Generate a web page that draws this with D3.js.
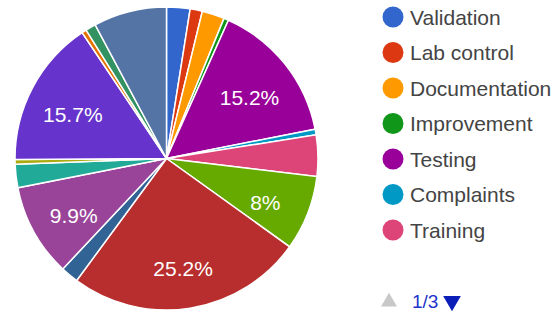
<!DOCTYPE html>
<html>
<head>
<meta charset="utf-8">
<script src="https://cdn.jsdelivr.net/npm/d3@7"></script>
<style>
  html, body { margin: 0; padding: 0; background: #fff; }
  svg { display: block; font-family: "Liberation Sans", Arial, sans-serif; }
</style>
</head>
<body>
<div id="chart"></div>
<script>
// slices, clockwise from 12 o'clock
var categories = ["Validation", "Lab control", "Documentation", "Improvement", "Testing",
    "Complaints", "Training", "Calibration", "Deviation", "Supplier", "Change control",
    "Equipment", "Cleaning", "Data integrity", "Storage", "Sampling", "Other"];
var shares = [2.5, 1.3, 2.4, 0.5, 15.2, 0.6, 4.4, 8, 25.2, 1.9, 9.9, 2.5, 0.5, 15.7, 0.5, 1.1, 7.8];
var colors = ["#3366cc", "#dc3912", "#ff9900", "#109618", "#990099", "#0099c6", "#dd4477",
    "#66aa00", "#b82e2e", "#316395", "#994499", "#22aa99", "#aaaa11", "#6633cc", "#e67300",
    "#329262", "#5574a6"];
var legendPage = { current: 1, total: 3, perPage: 7 };

var width = 559, height = 314;
var cx = 166.5, cy = 158.5, radius = 151.5;

var svg = d3.select("#chart").append("svg").attr("width", width).attr("height", height);

var total = d3.sum(shares);
var pie = d3.pie().sort(null).value(function (d) { return d; });
var arcs = pie(shares);
var arc = d3.arc().innerRadius(0).outerRadius(radius);
var labelArc = d3.arc().innerRadius(radius * 0.7).outerRadius(radius * 0.7);

var g = svg.append("g").attr("transform", "translate(" + cx + "," + cy + ")");

g.selectAll("path").data(arcs).enter().append("path")
    .attr("d", arc)
    .attr("fill", function (d, i) { return colors[i]; })
    .attr("stroke", "#fff")
    .attr("stroke-width", 1.5);

// only slices big enough get a text
g.selectAll("text").data(arcs.filter(function (d) { return d.value / total >= 0.0795; }))
    .enter().append("text")
    .attr("transform", function (d) { return "translate(" + labelArc.centroid(d) + ")"; })
    .attr("text-anchor", "middle")
    .attr("dy", "0.62em")
    .attr("fill", "#fff")
    .attr("font-size", 21)
    .text(function (d) { return d3.format(".3~r")(d.value / total * 100) + "%"; });

// legend, first page
var legend = svg.append("g").attr("transform", "translate(393,17)");
var rows = legend.selectAll("g").data(categories.slice(0, legendPage.perPage)).enter().append("g")
    .attr("transform", function (d, i) { return "translate(0," + i * 35.5 + ")"; });
rows.append("circle").attr("r", 10.5).attr("fill", function (d, i) { return colors[i]; });
rows.append("text").attr("x", 17).attr("dy", "0.36em")
    .attr("font-size", 21).attr("fill", "#444").text(String);

// pager
var pager = svg.append("g").attr("transform", "translate(389,301)");
pager.append("path").attr("d", d3.symbol(d3.symbolTriangle, 110)).attr("fill", "#c8c8c8")
    .attr("transform", "translate(0,1)");
pager.append("text").attr("x", 23).attr("dy", "0.36em").attr("font-size", 19)
    .attr("fill", "#2233cc").text(legendPage.current + "/" + legendPage.total);
pager.append("path").attr("d", d3.symbol(d3.symbolTriangle, 135)).attr("fill", "#0b1fb8")
    .attr("transform", "translate(63,0) rotate(180)");
</script>
</body>
</html>
